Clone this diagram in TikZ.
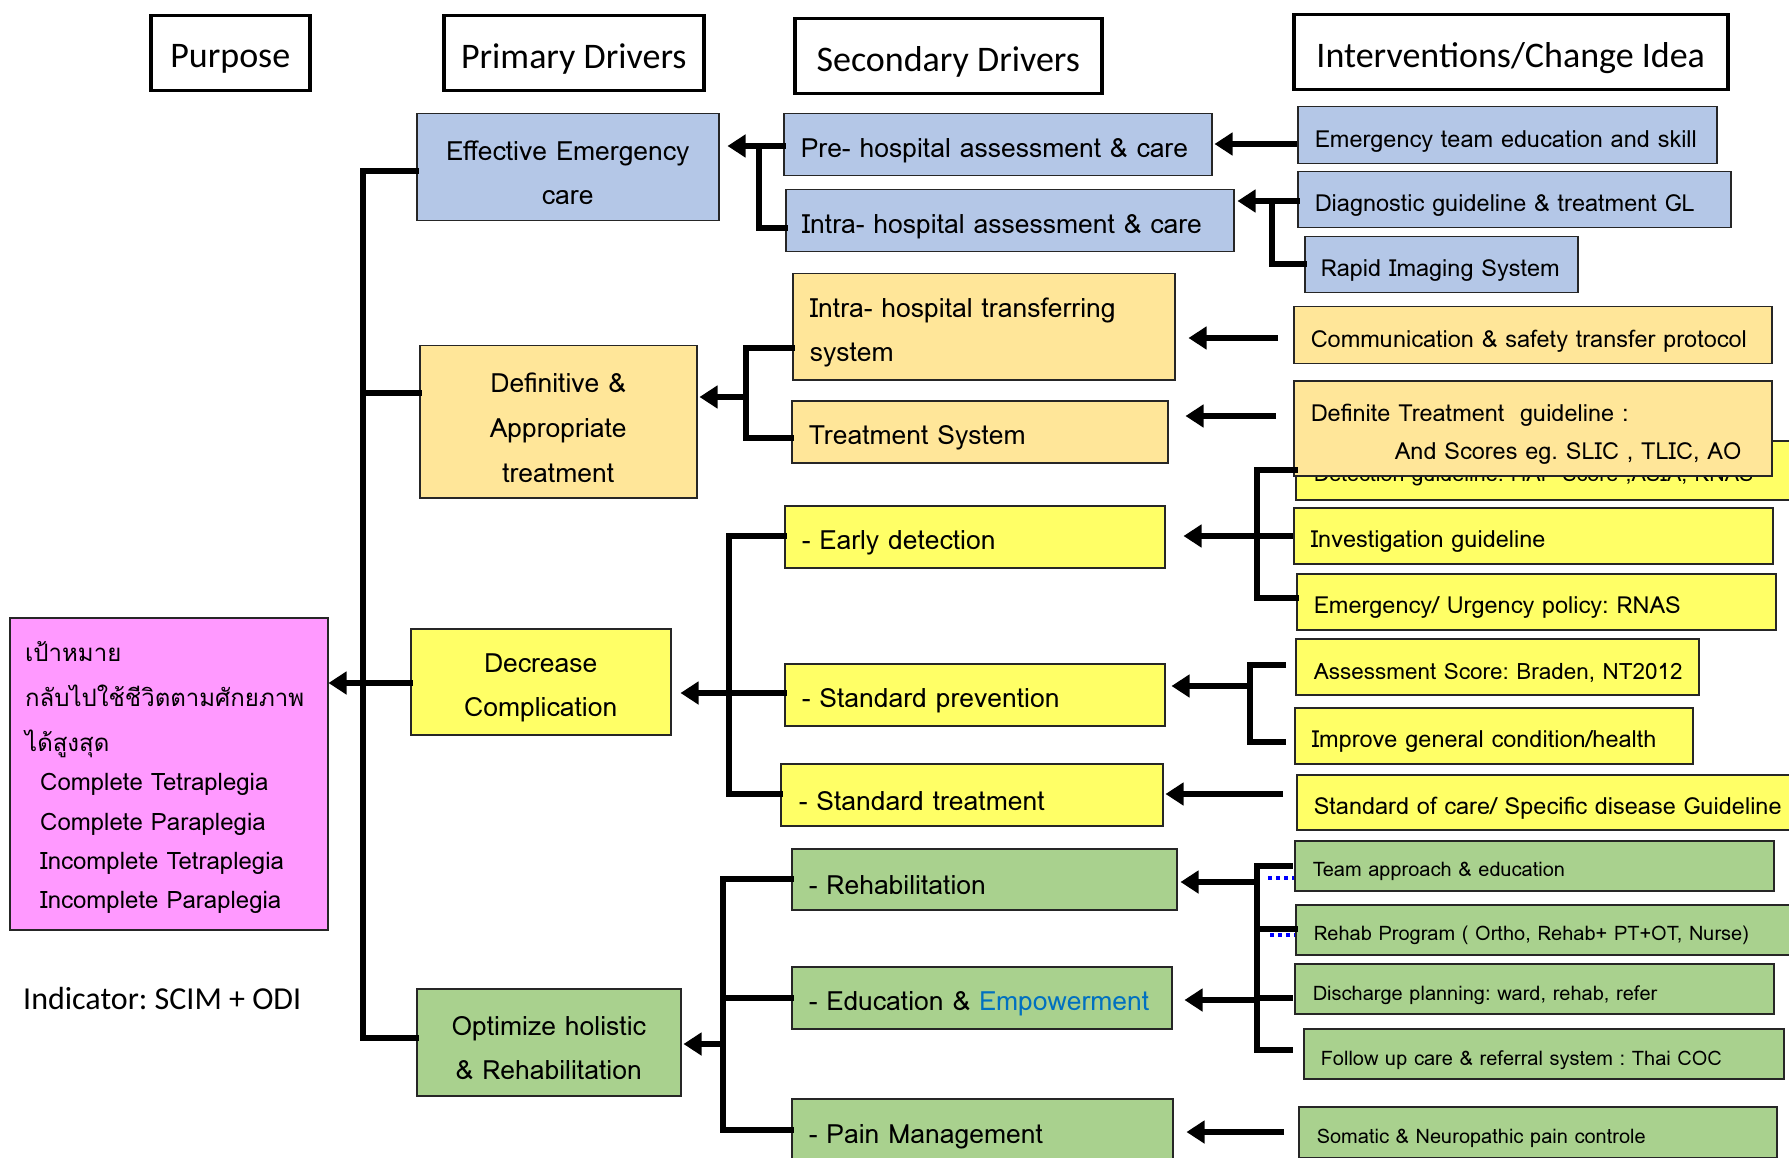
\documentclass[tikz,border=0pt]{standalone}
\usepackage{fontspec}
\newfontfamily\bodyfont{Loma}
\newfontfamily\thaifont[Script=Thai]{Loma}
\newfontfamily\hdrfont{Carlito}
\usetikzlibrary{arrows.meta}
\frenchspacing
\definecolor{cblue}{HTML}{B4C7E7}
\definecolor{corange}{HTML}{FFE699}
\definecolor{cyellow}{HTML}{FFFF66}
\definecolor{cgreen}{HTML}{A9D18E}
\definecolor{cpink}{HTML}{FF99FF}
\definecolor{eblue}{HTML}{0070C0}
\newcommand\lo[1]{\raisebox{-6pt}[\height][\depth]{#1}}
\newcommand\cbx[7]{\node[cbox,#6,align=center,anchor=north west,minimum width={#4-#2},minimum height={#5-#3}] (#1) at (#2,-#3) {#7};}
\newcommand\lbx[8]{\node[cbox,#7,align=left,anchor=north west,inner xsep=#6pt,text width={#4-#2-2*#6},minimum height={#5-#3}] (#1) at (#2,-#3) {#8};}
\tikzset{
  cbox/.style={draw=black!85, line width=1.5pt, inner ysep=0pt},
  hdr/.style={draw=black, line width=3.5pt, font=\hdrfont\fontsize{36}{40}\selectfont},
  tA/.style={font=\bodyfont\fontsize{26.5}{44}\selectfont},
  tB/.style={font=\bodyfont\fontsize{23.5}{38}\selectfont},
  tC/.style={font=\bodyfont\fontsize{20}{30}\selectfont},
  bus/.style={line width=6pt, line cap=rect},
  arr/.style={line width=6pt, -{Triangle[length=18pt,width=22pt]}},
  bdot/.style={draw=blue, line width=3.5pt, dash pattern=on 4pt off 4pt},
}
\begin{document}
\begin{tikzpicture}[x=1pt,y=1pt]
\useasboundingbox (0,0) rectangle (1789,-1158);
% headers
\cbx{hP}{149}{14}{308}{89}{hdr}{\lo{Purpose}}
\cbx{hPD}{442}{14}{702}{89}{hdr}{\lo{Primary Drivers}}
\cbx{hSD}{793}{17}{1100}{92}{hdr}{\lo{Secondary Drivers}}
\cbx{hI}{1292}{13}{1726}{88}{hdr}{\lo{Interventions/Change Idea}}
% purpose
\cbx{purpose}{9}{617}{327}{929}{fill=cpink}{}
\node[anchor=base west, inner sep=0, font=\thaifont\fontsize{24}{30}\selectfont] (p1) at (25,-661) {เป้าหมาย};
\node[anchor=base west, inner sep=0, font=\thaifont\fontsize{24}{30}\selectfont] (p2) at (25,-706) {กลับไปใช้ชีวิตตามศักยภาพ};
\node[anchor=base west, inner sep=0, font=\thaifont\fontsize{24}{30}\selectfont] (p3) at (25,-751) {ได้สูงสุด};
\node[anchor=base west, inner sep=0, font=\bodyfont\fontsize{24}{28}\selectfont] (p4) at (40,-790) {Complete Tetraplegia};
\node[anchor=base west, inner sep=0, font=\bodyfont\fontsize{24}{28}\selectfont] (p5) at (40,-830) {Complete Paraplegia};
\node[anchor=base west, inner sep=0, font=\bodyfont\fontsize{24}{28}\selectfont] (p6) at (40,-869) {Incomplete Tetraplegia};
\node[anchor=base west, inner sep=0, font=\bodyfont\fontsize{24}{28}\selectfont] (p7) at (40,-908) {Incomplete Paraplegia};
\node[anchor=base west, inner sep=0, font=\hdrfont\fontsize{32}{36}\selectfont] (ind) at (23,-1009) {Indicator: SCIM + ODI};
% primary drivers
\cbx{eff}{416}{113}{718}{220}{fill=cblue,tA}{\lo{Effective Emergency}\\\lo{care}}
\cbx{def}{419}{345}{696}{497}{fill=corange,font=\bodyfont\fontsize{26.5}{45}\selectfont}{\lo{Definitive \&}\\\lo{Appropriate}\\\lo{treatment}}
\cbx{dec}{410}{628}{670}{734}{fill=cyellow,tA}{\lo{Decrease}\\\lo{Complication}}
\cbx{opt}{416}{988}{680}{1095}{fill=cgreen,tA}{\lo{Optimize holistic}\\\lo{\& Rehabilitation}}
% secondary drivers
\lbx{pre}{783}{113}{1211}{175}{17}{fill=cblue,tA}{\lo{Pre- hospital assessment \& care}}
\lbx{intra}{785}{189}{1233}{251}{16}{fill=cblue,tA}{\lo{Intra- hospital assessment \& care}}
\lbx{itr}{792}{273}{1174}{379}{17}{fill=corange,tA}{\lo{Intra- hospital transferring}\\\lo{system}}
\lbx{trs}{791}{400}{1167}{462}{17}{fill=corange,tA}{\lo{Treatment System}}
\lbx{ed}{784}{505}{1164}{567}{17}{fill=cyellow,tA}{\lo{- Early detection}}
\lbx{sp}{784}{663}{1164}{725}{17}{fill=cyellow,tA}{\lo{- Standard prevention}}
\lbx{st}{780}{763}{1162}{825}{18}{fill=cyellow,tA}{\lo{- Standard treatment}}
\lbx{reh}{791}{848}{1176}{909}{17}{fill=cgreen,tA}{\lo{- Rehabilitation}}
\lbx{edu}{791}{966}{1171}{1028}{17}{fill=cgreen,tA}{\lo{- Education \& {\color{eblue}Empowerment}}}
\lbx{pain}{791}{1098}{1172}{1162}{17}{fill=cgreen,tA}{\lo{- Pain Management}}
% interventions
\lbx{i1}{1297}{106}{1716}{163}{17}{fill=cblue,tB}{\lo{Emergency team education and skill}}
\lbx{i2}{1297}{171}{1730}{227}{17}{fill=cblue,tB}{\lo{Diagnostic guideline \& treatment GL}}
\lbx{i3}{1304}{236}{1577}{292}{16}{fill=cblue,tB}{\lo{Rapid Imaging System}}
\lbx{i4}{1293}{306}{1771}{363}{17}{fill=corange,tB}{\lo{Communication \& safety transfer protocol}}
\lbx{i6}{1295}{440}{1792}{499}{18}{fill=cyellow,font=\bodyfont\fontsize{21.5}{30}\selectfont}{\lo{Detection guideline: HAP Score ,ASIA, RNAS}}
\lbx{i5}{1293}{380}{1771}{475}{17}{fill=corange,tB}{\lo{Definite Treatment\ \ guideline :}\\\hspace*{84pt}\lo{And Scores eg. SLIC , TLIC, AO}}
\lbx{i7}{1293}{507}{1772}{563}{17}{fill=cyellow,tB}{\lo{Investigation guideline}}
\lbx{i8}{1296}{573}{1775}{629}{17}{fill=cyellow,tB}{\lo{Emergency/ Urgency policy: RNAS}}
\lbx{i9}{1295}{638}{1698}{694}{18}{fill=cyellow,font=\bodyfont\fontsize{22.5}{38}\selectfont}{\lo{Assessment Score: Braden, NT2012}}
\lbx{i10}{1294}{707}{1692}{763}{17}{fill=cyellow,tB}{\lo{Improve general condition/health}}
\lbx{i11}{1296}{774}{1792}{829}{17}{fill=cyellow,tB}{\lo{Standard of care/ Specific disease Guideline}}
\lbx{g1}{1294}{840}{1773}{890}{18}{fill=cgreen,tC}{\lo{Team approach \& education}}
\lbx{g2}{1295}{904}{1792}{954}{18}{fill=cgreen,tC}{\lo{Rehab Program ( Ortho, Rehab+ PT+OT, Nurse)}}
\lbx{g3}{1294}{963}{1773}{1013}{18}{fill=cgreen,tC}{\lo{Discharge planning: ward, rehab, refer}}
\lbx{g4}{1303}{1028}{1783}{1078}{17}{fill=cgreen,tC}{\lo{Follow up care \& referral system : Thai COC}}
\lbx{g5}{1298}{1106}{1776}{1157}{18}{fill=cgreen,tC}{\lo{Somatic \& Neuropathic pain controle}}
% left bus
\draw[bus] (eff.west |- 0,-171) -- (363,-171) -- (363,-1038) -- (opt.west |- 0,-1038);
\draw[bus] (363,-393) -- (def.west |- 0,-393);
\draw[bus] (363,-683) -- (dec.west |- 0,-683);
\draw[arr] (363,-683) -- (purpose.east |- 0,-683);
% secondary to primary
\draw[bus] (pre.west |- 0,-146) -- (759,-146) -- (759,-228) -- (intra.west |- 0,-228);
\draw[arr, shorten >=8pt] (759,-146) -- (eff.east |- 0,-146);
\draw[bus] (itr.west |- 0,-348) -- (746,-348) -- (746,-438) -- (trs.west |- 0,-438);
\draw[arr, shorten >=2pt] (746,-397) -- (def.east |- 0,-397);
\draw[bus] (ed.west |- 0,-536) -- (729,-536) -- (729,-794) -- (st.west |- 0,-794);
\draw[bus] (729,-693) -- (sp.west |- 0,-693);
\draw[arr, shorten >=9pt] (729,-693) -- (dec.east |- 0,-693);
\draw[bus] (reh.west |- 0,-879) -- (723,-879) -- (723,-1130) -- (pain.west |- 0,-1130);
\draw[bus] (723,-998) -- (edu.west |- 0,-998);
\draw[arr, shorten >=2pt] (723,-1044) -- (opt.east |- 0,-1044);
% interventions to secondary
\draw[arr, shorten >=2pt] (i1.west |- 0,-144) -- (pre.east |- 0,-144);
\draw[bus] (i2.west |- 0,-201) -- (1272,-201) -- (1272,-264) -- (i3.west |- 0,-264);
\draw[arr, shorten >=3pt] (1272,-201) -- (intra.east |- 0,-201);
\coordinate (c4) at (1278,-338);
\coordinate (c5) at (1276,-416);
\draw[arr, shorten >=13pt] (c4) -- (itr.east |- c4);
\draw[arr, shorten >=17pt] (c5) -- (trs.east |- c5);
\draw[bus] (i6.west |- 0,-470) -- (1257,-470) -- (1257,-598) -- (i8.west |- 0,-598);
\draw[arr, shorten >=18pt] (i7.west |- 0,-536) -- (ed.east |- 0,-536);
\coordinate (c9) at (1283,-665);
\coordinate (c10) at (1283,-742);
\draw[bus] (c9) -- (1250,-665) -- (1250,-742) -- (c10);
\draw[arr, shorten >=6pt] (1250,-686) -- (sp.east |- 0,-686);
\coordinate (c11) at (1283,-794);
\draw[arr, shorten >=2pt] (c11) -- (st.east |- c11);
\coordinate (cg1) at (1290,-866);
\coordinate (cg3) at (1290,-998);
\coordinate (cg4) at (1290,-1050);
\draw[bus] (cg1) -- (1257,-866) -- (1257,-1050) -- (cg4);
\draw[bus] (1257,-929) -- (g2.west |- 0,-929);
\draw[bus] (1257,-998) -- (cg3);
\draw[arr, shorten >=3pt] (1257,-882) -- (reh.east |- 0,-882);
\draw[arr, shorten >=12pt] (1257,-1000) -- (edu.east |- 0,-1000);
\coordinate (c12) at (1284,-1132);
\draw[arr, shorten >=13pt] (c12) -- (pain.east |- c12);
\draw[bdot] (1268,-878) -- (g1.west |- 0,-878);
\draw[bdot] (1270,-935) -- (g2.west |- 0,-935);
\end{tikzpicture}
\end{document}
